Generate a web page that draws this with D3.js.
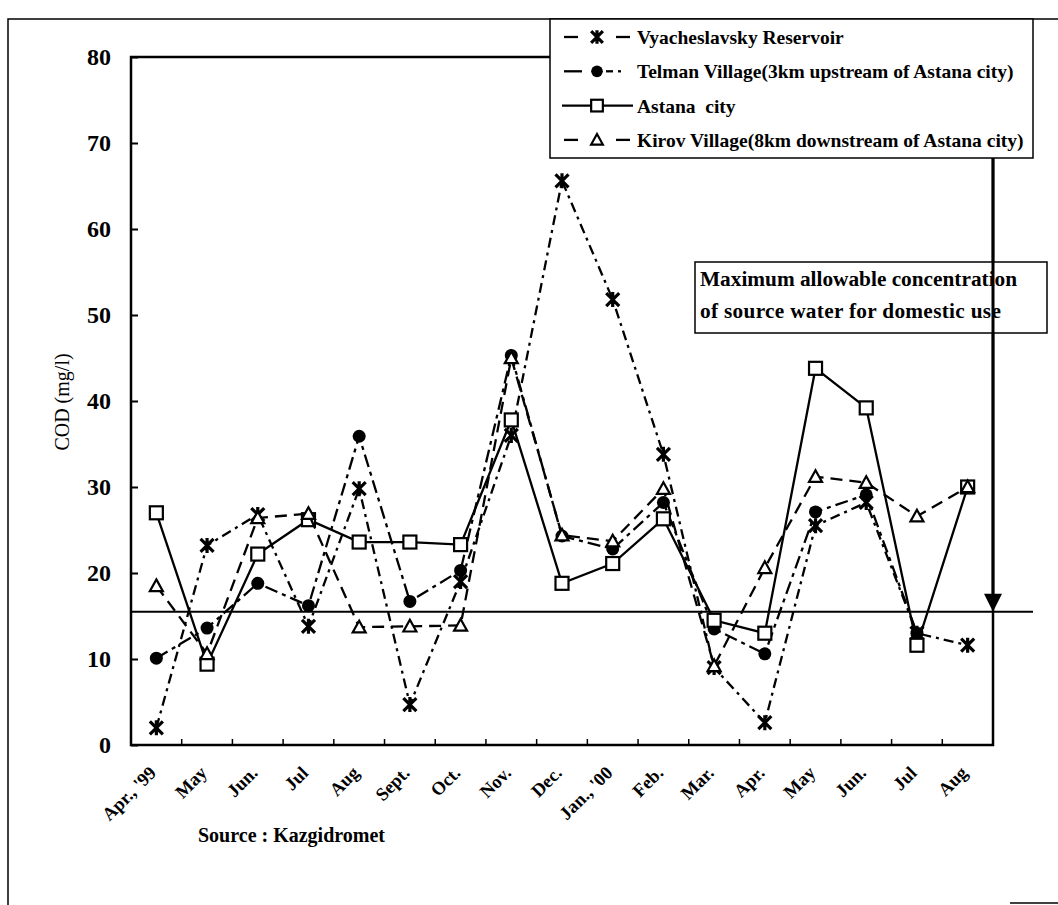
<!DOCTYPE html>
<html>
<head>
<meta charset="utf-8">
<script src="https://cdn.jsdelivr.net/npm/d3@7"></script>
<style>
  html, body { margin: 0; padding: 0; background: #fff; }
  svg { display: block; }
  text { font-family: "Liberation Serif", "Times New Roman", serif; fill: #000; }
</style>
</head>
<body>
<svg id="chart" width="1058" height="905"></svg>
<script>
// ---- data ----
const categories = ["Apr., '99","May","Jun.","Jul","Aug","Sept.","Oct.","Nov.","Dec.","Jan., '00","Feb.","Mar.","Apr.","May","Jun.","Jul","Aug"];
const vyacheslavsky = [2.0, 23.2, 26.8, 13.8, 29.8, 4.7, 19.0, 36.0, 65.6, 51.8, 33.8, 9.0, 2.6, 25.5, 28.2, 13.0, 11.6];
const telman        = [10.1, 13.6, 18.8, 16.2, 35.9, 16.7, 20.3, 45.3, 24.3, 22.8, 28.2, 13.5, 10.6, 27.1, 29.1, 13.0, null];
const astana        = [27.0, 9.4, 22.2, 26.2, 23.6, 23.6, 23.3, 37.8, 18.8, 21.1, 26.3, 14.5, 13.0, 43.8, 39.2, 11.6, 30.0];
const kirov         = [18.5, 10.6, 26.4, 26.9, 13.7, 13.8, 13.9, 45.0, 24.4, 23.7, 29.8, 9.2, 20.6, 31.2, 30.5, 26.6, 30.0];
const seriesNames = [
  "Vyacheslavsky Reservoir",
  "Telman Village(3km upstream of Astana city)",
  "Astana  city",
  "Kirov Village(8km downstream of Astana city)"
];
const yTicks = [0, 10, 20, 30, 40, 50, 60, 70, 80];
const limitValue = 15.5;
const yTitle = "COD (mg/l)";
const annotationLines = ["Maximum allowable concentration", "of source water for domestic use"];
const sourceText = "Source : Kazgidromet";

// ---- layout ----
const svg = d3.select("#chart");
const plot = { left: 131, right: 993, top: 57, bottom: 745 };

const x = d3.scaleBand().domain(d3.range(categories.length)).range([plot.left, plot.right]).padding(0);
const y = d3.scaleLinear().domain([0, 80]).range([plot.bottom, plot.top]);
const cx = i => x(i) + x.bandwidth() / 2;

// outer frame (scan border)
svg.append("path")
  .attr("d", `M8,905 L8,19 L1058,19`)
  .attr("fill", "none").attr("stroke", "#000").attr("stroke-width", 1.5);
svg.append("line").attr("x1", 1010).attr("x2", 1058).attr("y1", 903).attr("y2", 903)
  .attr("stroke", "#000").attr("stroke-width", 1.5);

// plot frame
svg.append("rect")
  .attr("x", plot.left).attr("y", plot.top)
  .attr("width", plot.right - plot.left).attr("height", plot.bottom - plot.top)
  .attr("fill", "none").attr("stroke", "#000").attr("stroke-width", 2.5);

// y axis
const yAxis = d3.axisLeft(y).tickValues(yTicks).tickSizeInner(-7).tickSizeOuter(0).tickPadding(20);
const gy = svg.append("g").attr("transform", `translate(${plot.left},0)`).call(yAxis);
gy.select(".domain").remove();
gy.selectAll(".tick line").attr("stroke", "#000").attr("stroke-width", 2);
gy.selectAll(".tick text")
  .style("font-family", "'Liberation Serif', serif")
  .style("font-size", "24px").style("font-weight", "bold").attr("fill", "#000");

// x axis (labels at band centres, ticks at band boundaries)
const xAxis = d3.axisBottom(x).tickSize(0).tickFormat(i => categories[i]);
const gx = svg.append("g").attr("transform", `translate(0,${plot.bottom})`).call(xAxis);
gx.select(".domain").remove();
gx.selectAll(".tick text")
  .attr("x", 0).attr("y", 0).attr("dy", 0)
  .attr("text-anchor", "end")
  .attr("transform", "translate(1,29) rotate(-45)")
  .style("font-family", "'Liberation Serif', serif")
  .style("font-size", "18.5px").style("font-weight", "bold").attr("fill", "#000");
svg.append("g").selectAll("line")
  .data(d3.range(1, categories.length))
  .join("line")
  .attr("x1", d => x(d)).attr("x2", d => x(d))
  .attr("y1", plot.bottom).attr("y2", plot.bottom - 6)
  .attr("stroke", "#000").attr("stroke-width", 1.5);

// y title
svg.append("text")
  .attr("transform", `translate(69,402) rotate(-90)`)
  .attr("text-anchor", "middle")
  .style("font-size", "20px")
  .text(yTitle);

// limit line
svg.append("line")
  .attr("x1", plot.left).attr("x2", 1033)
  .attr("y1", y(limitValue)).attr("y2", y(limitValue))
  .attr("stroke", "#000").attr("stroke-width", 2);

// ---- series ----
const asteriskPath = s => {
  const h = s / 2;
  return `M${-h},${-h}L${h},${h}M${-h},${h}L${h},${-h}M0,${-h - 1}L0,${h + 1}`;
};
const styles = [
  { data: vyacheslavsky, dash: "10,5,3,5", marker: "asterisk" },
  { data: telman, dash: "13,5,4,5", marker: "circle" },
  { data: astana, dash: null, marker: "square" },
  { data: kirov, dash: "12,7", marker: "triangle" }
];

function drawMarker(g, type, px, py, scale) {
  const s = scale || 1;
  if (type === "asterisk") {
    g.append("path").attr("transform", `translate(${px},${py})`)
      .attr("d", asteriskPath(13 * s)).attr("stroke", "#000").attr("stroke-width", 3.2).attr("fill", "none");
  } else if (type === "circle") {
    g.append("circle").attr("cx", px).attr("cy", py).attr("r", 6.5 * s).attr("fill", "#000");
  } else if (type === "square") {
    g.append("rect").attr("x", px - 6.5 * s).attr("y", py - 6.5 * s)
      .attr("width", 13 * s).attr("height", 13 * s)
      .attr("fill", "#fff").attr("stroke", "#000").attr("stroke-width", 2.2);
  } else if (type === "triangle") {
    const h = 6.5 * s;
    g.append("path").attr("d", `M${px},${py - h}L${px + h},${py + h * 0.8}L${px - h},${py + h * 0.8}Z`)
      .attr("fill", "#fff").attr("stroke", "#000").attr("stroke-width", 2.2);
  }
}

const line = d3.line()
  .defined(d => d.v != null)
  .x(d => cx(d.i))
  .y(d => y(d.v));

const gSeries = svg.append("g");
styles.forEach(st => {
  const pts = st.data.map((v, i) => ({ i, v }));
  const g = gSeries.append("g");
  g.append("path").datum(pts)
    .attr("d", line)
    .attr("fill", "none").attr("stroke", "#000").attr("stroke-width", 2.3)
    .attr("stroke-dasharray", st.dash);
  pts.filter(p => p.v != null).forEach(p => drawMarker(g, st.marker, cx(p.i), y(p.v)));
});

// ---- annotation box ----
svg.append("rect")
  .attr("x", 695).attr("y", 262).attr("width", 352).attr("height", 71)
  .attr("fill", "#fff").attr("stroke", "#000").attr("stroke-width", 1.5);
svg.append("g").selectAll("text").data(annotationLines).join("text")
  .attr("x", 700).attr("y", (d, i) => 286 + i * 32)
  .style("font-size", "21.3px").style("font-weight", "bold")
  .style("letter-spacing", (d, i) => i === 1 ? "0.3px" : null)
  .text(d => d);

// ---- legend ----
const legend = svg.append("g");
legend.append("rect")
  .attr("x", 550).attr("y", 19).attr("width", 483).attr("height", 139)
  .attr("fill", "#fff").attr("stroke", "#000").attr("stroke-width", 1.5);
const legendSegs = [
  [[564, 578], [616, 630]],
  [[564, 582], [606, 613], [618, 621]],
  [[562, 633]],
  [[564, 578], [616, 630]]
];
styles.forEach((st, k) => {
  const ry = 37 + k * 34.3;
  legend.append("g").selectAll("line").data(legendSegs[k]).join("line")
    .attr("x1", d => d[0]).attr("x2", d => d[1]).attr("y1", ry).attr("y2", ry)
    .attr("stroke", "#000").attr("stroke-width", 2.3);
  drawMarker(legend, st.marker, 597, ry, 0.9);
  legend.append("text")
    .attr("x", 637).attr("y", ry + 7)
    .style("font-size", "19.5px").style("font-weight", "bold")
    .style("white-space", "pre")
    .text(seriesNames[k]);
});

// arrow from legend down to the limit line (drawn over the annotation box)
const arrowTipY = y(limitValue);
svg.append("line")
  .attr("x1", plot.right).attr("x2", plot.right)
  .attr("y1", 158).attr("y2", arrowTipY - 16)
  .attr("stroke", "#000").attr("stroke-width", 3);
svg.append("path")
  .attr("d", `M${plot.right - 9},${arrowTipY - 18}L${plot.right + 9},${arrowTipY - 18}L${plot.right},${arrowTipY}Z`)
  .attr("fill", "#000");

// source
svg.append("text")
  .attr("x", 198).attr("y", 842)
  .style("font-size", "20px").style("font-weight", "bold")
  .text(sourceText);
</script>
</body>
</html>
